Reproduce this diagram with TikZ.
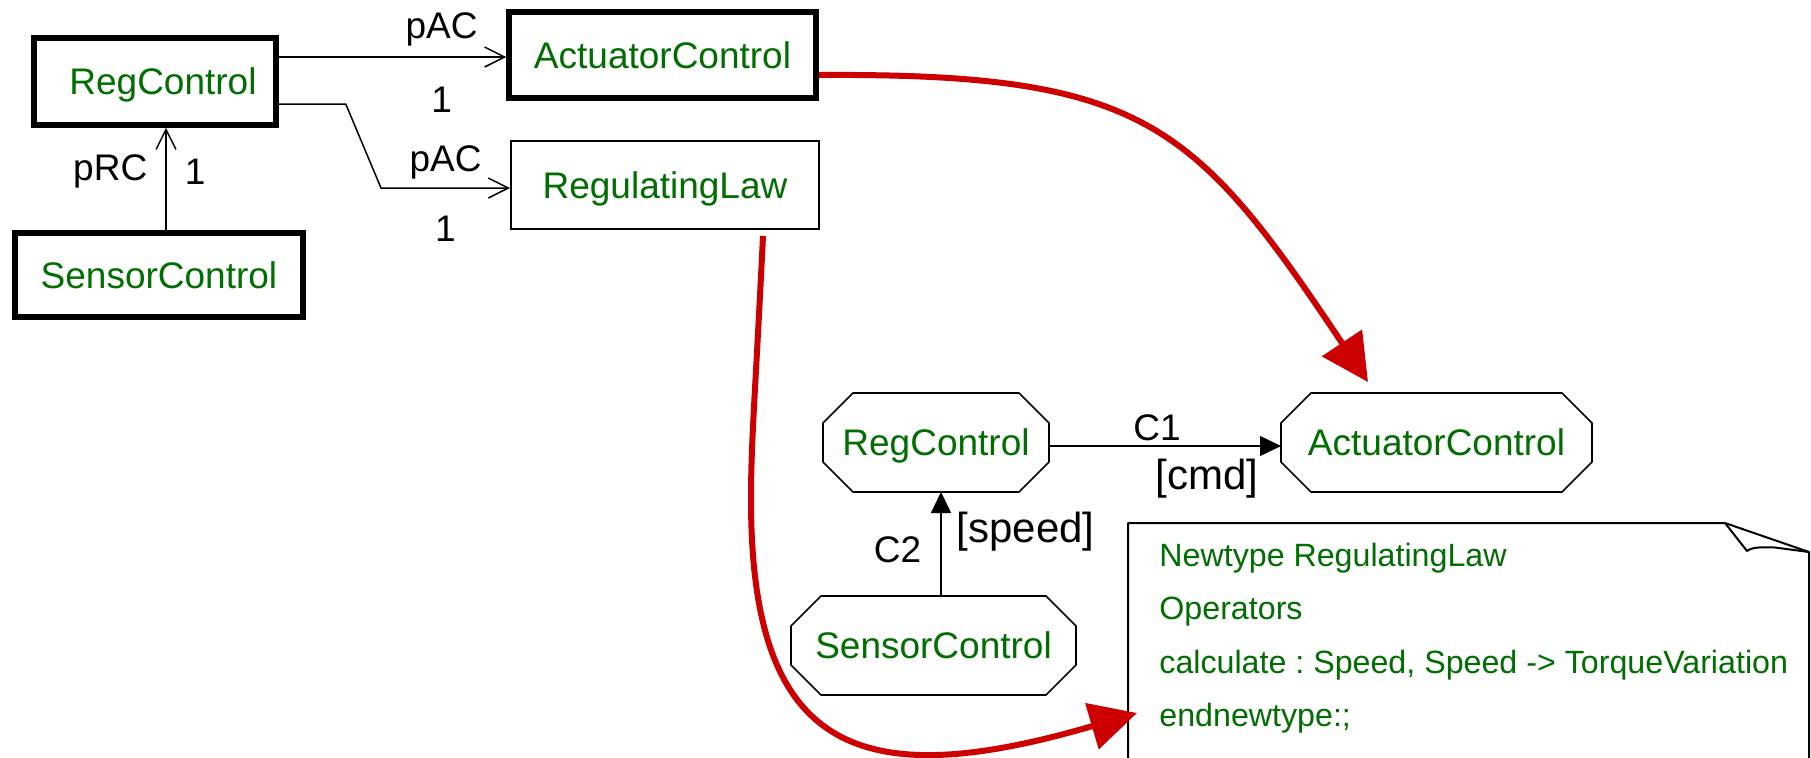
\documentclass[tikz,border=0pt]{standalone}
\usepackage{fontspec}
\setmainfont{Liberation Sans}
\usetikzlibrary{arrows.meta,calc}
\definecolor{sdlgreen}{RGB}{0,110,0}
\definecolor{linkred}{RGB}{204,0,0}

% octagonal frame drawn round a (borderless) rectangular node
\newcommand\octframe[1]{%
  \draw[octline] ([xshift=15pt]#1.north west) -- ([xshift=-15pt]#1.north east)
    -- ([yshift=-15pt]#1.north east) -- ([yshift=15pt]#1.south east)
    -- ([xshift=-15pt]#1.south east) -- ([xshift=15pt]#1.south west)
    -- ([yshift=15pt]#1.south west) -- ([yshift=-15pt]#1.north west) -- cycle;}

\begin{document}
\begin{tikzpicture}[x=0.5pt,y=-0.5pt,
  every node/.style={font=\fontsize{18.5}{22}\selectfont},
  boxtext/.style={text=sdlgreen, inner sep=0pt, text height=13.3pt, text depth=0pt},
  blockthick/.style={boxtext, draw, line width=2.75pt},
  blockthin/.style={boxtext, draw, line width=1pt},
  agent/.style={boxtext, outer sep=0pt},
  octline/.style={line width=0.8pt},
  assoc/.style={line width=0.75pt, -{Straight Barb[length=10pt,width=10pt]}},
  chan/.style={line width=0.75pt, -{Triangle[length=10.5pt,width=10pt]}},
  mapping/.style={linkred, line width=3pt, -{Triangle[length=23.5pt,width=23.5pt]}},
  lbl/.style={inner sep=0pt, text=black},
  biglbl/.style={lbl, font=\fontsize{21}{25}\selectfont},
  notetext/.style={text=sdlgreen, inner sep=0pt, font=\fontsize{16.1}{19}\selectfont\frenchspacing},
  noteline/.style={line width=1pt, line join=round}]

\useasboundingbox (0,0) rectangle (1811,757);
\fill[white] (0,0) rectangle (1811,757);

% ---- block diagram ----
\node[blockthick, minimum width=121pt, minimum height=43.5pt] (rc1) at (155,81.5) {\hspace*{8pt}RegControl};
\node[blockthick, minimum width=153.5pt, minimum height=43pt] (ac1) at (662.5,55) {ActuatorControl};
\node[blockthin, minimum width=154pt, minimum height=44pt] (rl1) at (665,185) {RegulatingLaw};
\node[blockthick, minimum width=144pt, minimum height=42pt] (sc1) at (159,275) {SensorControl};

\coordinate (a1in) at ([yshift=-1pt]ac1.west);
\draw[assoc] (rc1.east |- a1in) -- (a1in)
  node[lbl, pos=0.716, above=5pt] {pAC}
  node[lbl, pos=0.716, below=14.5pt] {1};

\coordinate (r1in) at ([yshift=-1.5pt]rl1.west);
\draw[assoc] ([yshift=-11.25pt]rc1.east) -- ++(67,0) -- ([xshift=-64.5pt]r1in) -- (r1in)
  node[lbl, pos=0.5, above=4pt] {pAC}
  node[lbl, pos=0.5, below=13.5pt] {1};

\coordinate (s1top) at ([xshift=3.5pt]sc1.north);
\draw[assoc] (s1top) -- (s1top |- rc1.south)
  node[lbl, pos=0.574, left=9pt] {pRC}
  node[lbl, pos=0.574, right=9pt] {1};

% ---- agents and channels ----
\node[agent, minimum width=113pt, minimum height=49.5pt] (rc2) at (936,442.5) {RegControl};
\node[agent, minimum width=155.5pt, minimum height=49.5pt] (ac2) at (1436.5,442.5) {ActuatorControl};
\node[agent, minimum width=142.5pt, minimum height=49.5pt] (sc2) at (933.5,645.5) {SensorControl};
\octframe{rc2}
\octframe{ac2}
\octframe{sc2}

\coordinate (c1a) at ([yshift=-1.75pt]rc2.east);
\draw[chan] (c1a) -- (c1a -| ac2.west)
  node[lbl, pos=0.466, above=2pt] {C1}
  node[biglbl, pos=0.68, below=6pt] {[cmd]};

\coordinate (c2a) at ([xshift=3.75pt]sc2.north);
\draw[chan] (c2a) -- (c2a |- rc2.south)
  node[lbl, pos=0.44, left=9.5pt] {C2}
  node[biglbl, pos=0.615, right=7.5pt] {[speed]};

% ---- text symbol with folded corner ----
\node[inner sep=0pt, outer sep=0pt, minimum width=340.5pt, minimum height=130pt, anchor=north west] (note) at (1128,523) {};
\draw[noteline] (note.south west) -- (note.north west) -- ($(note.north east)+(-84,0)$)
  -- ($(note.north east)+(0,29)$) -- (note.south east);
\draw[noteline] ($(note.north east)+(-84,0)$) -- ($(note.north east)+(-62,28)$)
  .. controls ($(note.north east)+(-57,24)$) and ($(note.north east)+(-48,24)$) .. ($(note.north east)+(-34,24.5)$)
  -- ($(note.north east)+(0,29)$);
\node[notetext, anchor=base west] (n1) at (1159,566) {Newtype RegulatingLaw};
\node[notetext, anchor=base west] (n2) at (1159,619.5) {Operators};
\node[notetext, anchor=base west] (n3) at (1159,673) {calculate : Speed, Speed -> TorqueVariation};
\node[notetext, anchor=base west] (n4) at (1159,726.5) {endnewtype:;};

% ---- refinement links ----
\coordinate (tip1) at ($(ac2.north)+(-68.5,-11)$);
\draw[mapping] ([yshift=-10pt]ac1.east) .. controls (1143,73) and (1194,121) .. (tip1);

\coordinate (tip2) at ($(note.north west)+(9,190)$);
\draw[mapping] ([xshift=49pt,yshift=-3pt]rl1.south) .. controls (755,400) and (751,440) .. (751,500)
  .. controls (751,750) and (857,795) .. (tip2);
\end{tikzpicture}
\end{document}
